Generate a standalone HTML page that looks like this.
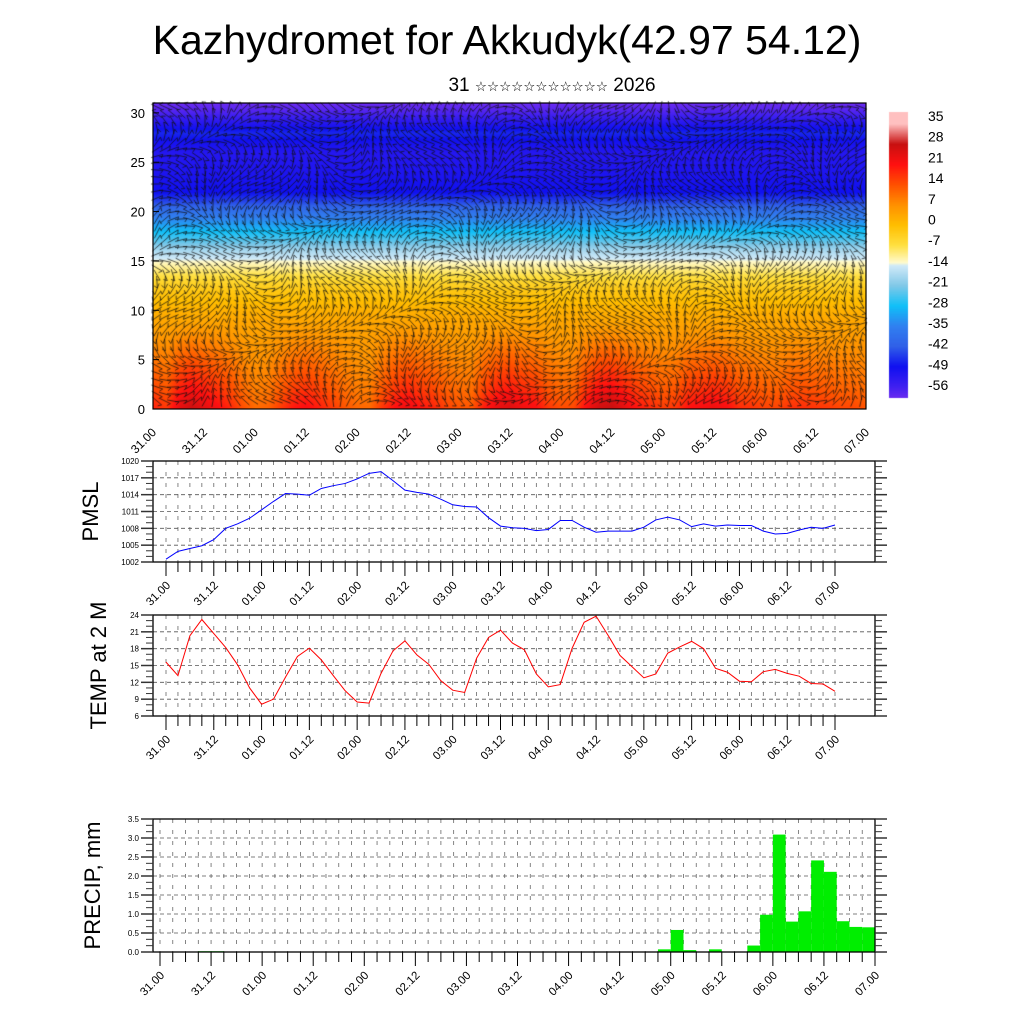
<!DOCTYPE html>
<html><head><meta charset="utf-8">
<style>
html,body{margin:0;padding:0;background:#fff;}
#wrap{position:relative;width:1024px;height:1024px;overflow:hidden;font-family:"Liberation Sans","DejaVu Sans",sans-serif;}
canvas,svg{position:absolute;left:0;top:0;}
</style></head>
<body>
<div id="wrap">
<canvas id="field" width="1024" height="1024"></canvas>
<svg id="s" width="1024" height="1024" xmlns="http://www.w3.org/2000/svg">
<text x="507" y="54" text-anchor="middle" font-size="41" font-family="Liberation Sans, sans-serif">Kazhydromet for Akkudyk(42.97 54.12)</text>
<text x="552" y="91" text-anchor="middle" font-size="19" font-family="Liberation Sans, DejaVu Sans, sans-serif">31 <tspan font-size="13.5">☆☆☆☆☆☆☆☆☆☆☆</tspan> 2026</text>
</svg>
</div>
<script>
const timeLabels=["31.00","31.12","01.00","01.12","02.00","02.12","03.00","03.12","04.00","04.12","05.00","05.12","06.00","06.12","07.00"];
const pmsl=[1002.5,1003.9,1004.4,1004.9,1006.0,1008.0,1008.8,1009.8,1011.3,1012.8,1014.2,1014.1,1013.9,1015.1,1015.6,1016.0,1016.8,1017.8,1018.1,1016.5,1014.8,1014.4,1014.1,1013.2,1012.2,1011.9,1011.8,1009.9,1008.4,1008.1,1008.0,1007.6,1007.8,1009.4,1009.4,1008.2,1007.3,1007.5,1007.5,1007.5,1008.2,1009.5,1010.0,1009.5,1008.3,1008.8,1008.4,1008.6,1008.5,1008.5,1007.5,1007.0,1007.1,1007.7,1008.2,1008.0,1008.6];
const temp2m=[15.6,13.2,20.3,23.2,20.7,18.2,15.1,11.0,8.1,9.0,12.9,16.6,18.1,16.0,13.2,10.5,8.5,8.3,13.6,17.6,19.4,16.9,15.2,12.3,10.6,10.2,16.3,20.0,21.3,19.0,17.8,13.5,11.2,11.6,18.1,22.7,23.8,20.4,16.8,14.8,12.8,13.5,17.2,18.3,19.3,18.0,14.5,13.8,12.2,12.1,13.9,14.3,13.6,13.1,11.8,11.7,10.4];
const precip=[0,0,0,0,0.02,0.02,0,0,0,0,0,0,0,0,0,0,0,0,0,0,0,0,0,0,0,0,0,0,0,0,0,0,0,0,0,0,0,0,0,0,0.07,0.58,0.05,0,0.07,0,0,0.17,0.98,3.09,0.80,1.07,2.41,2.11,0.81,0.66,0.65];
const pmslTicks=[1002,1005,1008,1011,1014,1017,1020];
const tempTicks=[6,9,12,15,18,21,24];
const precipTicks=[0.0,0.5,1.0,1.5,2.0,2.5,3.0,3.5];
const heights=[0,2,5,8,10,12,13,14,15,16,17,18,20,21,22,24,26,27,28,29,30,31];
const profile=[19,15,10,5,2,-2,-5,-9,-13,-17,-23,-28,-38,-44,-49,-51,-52,-50,-47,-52,-57,-60];
const cbLabels=[35,28,21,14,7,0,-7,-14,-21,-28,-35,-42,-49,-56];

const NS="http://www.w3.org/2000/svg";
const svg=document.getElementById('s');
function el(tag,attrs,parent){const e=document.createElementNS(NS,tag);for(const k in attrs)e.setAttribute(k,attrs[k]);(parent||svg).appendChild(e);return e;}

const cstops=[[35,[255,192,192]],[28,[200,16,16]],[21,[255,16,16]],[14,[255,80,0]],[7,[255,144,0]],[0,[255,190,0]],[-7,[255,224,64]],[-13,[255,250,205]],[-14,[208,234,248]],[-21,[128,200,232]],[-28,[16,192,248]],[-35,[48,128,240]],[-42,[48,96,232]],[-49,[16,16,240]],[-56,[64,32,240]],[-62,[128,48,240]]];
function cmap(v){
  if(v>=cstops[0][0])return cstops[0][1];
  for(let i=0;i<cstops.length-1;i++){const a=cstops[i],b=cstops[i+1];if(v<=a[0]&&v>=b[0]){const f=(a[0]-v)/(a[0]-b[0]);return a[1].map((c,j)=>Math.round(c+(b[1][j]-c)*f));}}
  return cstops[cstops.length-1][1];
}
function interpProfile(z){for(let i=0;i<heights.length-1;i++){if(z>=heights[i]&&z<=heights[i+1]){const f=(z-heights[i])/(heights[i+1]-heights[i]);return profile[i]+(profile[i+1]-profile[i])*f;}}return profile[profile.length-1];}

const T={x0:153,x1:866,y0:409,y1:103,zmax:31};
const tx=i=>T.x0+(T.x1-T.x0)*i/56;
const tz=z=>T.y0-(T.y0-T.y1)*z/T.zmax;
const cv=document.getElementById('field');const ctx=cv.getContext('2d');
const img=ctx.createImageData(T.x1-T.x0,T.y0-T.y1);
const meanT=temp2m.reduce((a,b)=>a+b,0)/temp2m.length;
for(let py=0;py<T.y0-T.y1;py++){
  const z=(T.y0-T.y1-py)/(T.y0-T.y1)*T.zmax;
  for(let px=0;px<T.x1-T.x0;px++){
    const fi=px/(T.x1-T.x0)*56;const i0=Math.floor(fi),i1=Math.min(56,i0+1),f=fi-i0;
    const s=temp2m[i0]+(temp2m[i1]-temp2m[i0])*f;
    const anom=(s-meanT)*Math.max(0,1-z/9)*1.1;
    const c=cmap(interpProfile(z)+anom);
    const k=(py*(T.x1-T.x0)+px)*4;img.data[k]=c[0];img.data[k+1]=c[1];img.data[k+2]=c[2];img.data[k+3]=255;
  }
}
ctx.putImageData(img,T.x0,T.y1);
ctx.strokeStyle='rgba(15,15,15,0.8)';ctx.lineWidth=0.9;
for(let gx=T.x0+4;gx<T.x1-2;gx+=8){for(let gy=T.y1+4;gy<T.y0-2;gy+=7){
  const a=Math.sin(gx*0.021+gy*0.013)*1.6+Math.cos(gy*0.045-gx*0.008)*1.2;
  const L=12;const dx=Math.cos(a)*L,dy=Math.sin(a)*L;
  ctx.beginPath();ctx.moveTo(gx-dx/2,gy-dy/2);ctx.lineTo(gx+dx/2,gy+dy/2);
  ctx.lineTo(gx+dx/2+Math.cos(a+2.2)*4,gy+dy/2+Math.sin(a+2.2)*4);ctx.stroke();
}}
for(let py=0;py<286;py++){const v=35+4-py/286*(35+4+60);const c=cmap(v);ctx.fillStyle=`rgb(${c[0]},${c[1]},${c[2]})`;ctx.fillRect(889,112+py,19,1);}

el('rect',{x:T.x0,y:T.y1,width:T.x1-T.x0,height:T.y0-T.y1,fill:'none',stroke:'#000','stroke-width':1.2,});
[0,5,10,15,20,25,30].forEach(v=>{
  const t=el('text',{x:T.x0-8,y:tz(v)+5,'text-anchor':'end','font-size':13});t.textContent=v;
  
  
  el('line',{x1:T.x0,x2:T.x0+6,y1:tz(v),y2:tz(v),stroke:'#000'});
});
timeLabels.forEach((lb,j)=>{
  const x=tx(j*4)+4;
  const t=el('text',{x:x,y:T.y0+24,'text-anchor':'end','font-size':12,transform:`rotate(-45 ${x} ${T.y0+24})`});t.textContent=lb;
  
  
});
cbLabels.forEach((v,j)=>{
  const t=el('text',{x:928,y:121+j*20.7,'font-size':14});t.textContent=v;
  
  
});

function panel(o){
  const g=el('g',{});
  
  
  const X=i=>o.dx0+(o.dx1-o.dx0)*i/56;
  const Y=v=>o.y1-(o.y1-o.y0)*(v-o.vmin)/(o.vmax-o.vmin);
  for(let i=0;i<=56;i++){el('line',{x1:X(i),x2:X(i),y1:o.y0,y2:o.y1,stroke:'#666','stroke-width':0.8,'stroke-dasharray':'4,7'},g);}
  o.ticks.forEach(v=>{el('line',{x1:o.fx0,x2:o.fx1,y1:Y(v),y2:Y(v),stroke:'#555','stroke-width':0.8,'stroke-dasharray':'4,3'},g);});
  if(o.bars){
    o.data.forEach((v,i)=>{if(v>0&&i>0){
      const r=el('rect',{x:X(i-1),y:Y(v),width:X(i)-X(i-1),height:Y(0)-Y(v),fill:'#00ee00'},g);
      
      
    }});
  } else {
    const p=el('polyline',{points:o.data.map((v,i)=>X(i)+','+Y(v)).join(' '),fill:'none',stroke:o.color,'stroke-width':1},g);
    
    
  }
  el('rect',{x:o.fx0,y:o.y0,width:o.fx1-o.fx0,height:o.y1-o.y0,fill:'none',stroke:'#000','stroke-width':1.3},g);
  const st=o.ticks[1]-o.ticks[0];
  for(let k=0;k<(o.ticks.length-1)*3+1;k++){const v=o.vmin+k*st/3;const big=k%3==0;
    el('line',{x1:o.fx0-(big?12:7),x2:o.fx0,y1:Y(v),y2:Y(v),stroke:'#333','stroke-width':big?1.5:1},g);
    el('line',{x1:o.fx1,x2:o.fx1+(big?12:7),y1:Y(v),y2:Y(v),stroke:'#333','stroke-width':big?1.5:1},g);}
  o.ticks.forEach(v=>{const t=el('text',{x:o.fx0-14,y:Y(v)+3,'text-anchor':'end','font-size':8},g);t.textContent=o.fmt(v);
    
    });
  for(let i=0;i<=56;i++){el('line',{x1:X(i),x2:X(i),y1:o.y1,y2:o.y1+(i%4==0?14:10),stroke:'#000','stroke-width':1},g);}
  timeLabels.forEach((lb,j)=>{const x=X(j*4)+5,y=o.y1+24;
    const t=el('text',{x:x,y:y,'text-anchor':'end','font-size':11.5,transform:`rotate(-45 ${x} ${y})`},g);t.textContent=lb;
    
    });
  const cy=(o.y0+o.y1)/2;
  const t=el('text',{x:o.lx,y:cy,'text-anchor':'middle','font-size':22,transform:`rotate(-90 ${o.lx} ${cy})`},g);t.textContent=o.title;
  
  
}
panel({name:'pmsl-panel',data:pmsl,ticks:pmslTicks,vmin:1002,vmax:1020,fx0:153,fx1:875,dx0:166,dx1:835,y0:461,y1:562,color:'#0000ff',title:'PMSL',lx:98,fmt:v=>v});
panel({name:'temp-panel',data:temp2m,ticks:tempTicks,vmin:6,vmax:24,fx0:153,fx1:875,dx0:166,dx1:835,y0:615,y1:716,color:'#ff0000',title:'TEMP at 2 M',lx:106,fmt:v=>v});
panel({name:'precip-panel',data:precip,ticks:precipTicks,vmin:0,vmax:3.5,fx0:153,fx1:875,dx0:160,dx1:875,y0:819,y1:952,bars:true,title:'PRECIP, mm',lx:100,fmt:v=>v.toFixed(1)});
</script>
</body></html>
